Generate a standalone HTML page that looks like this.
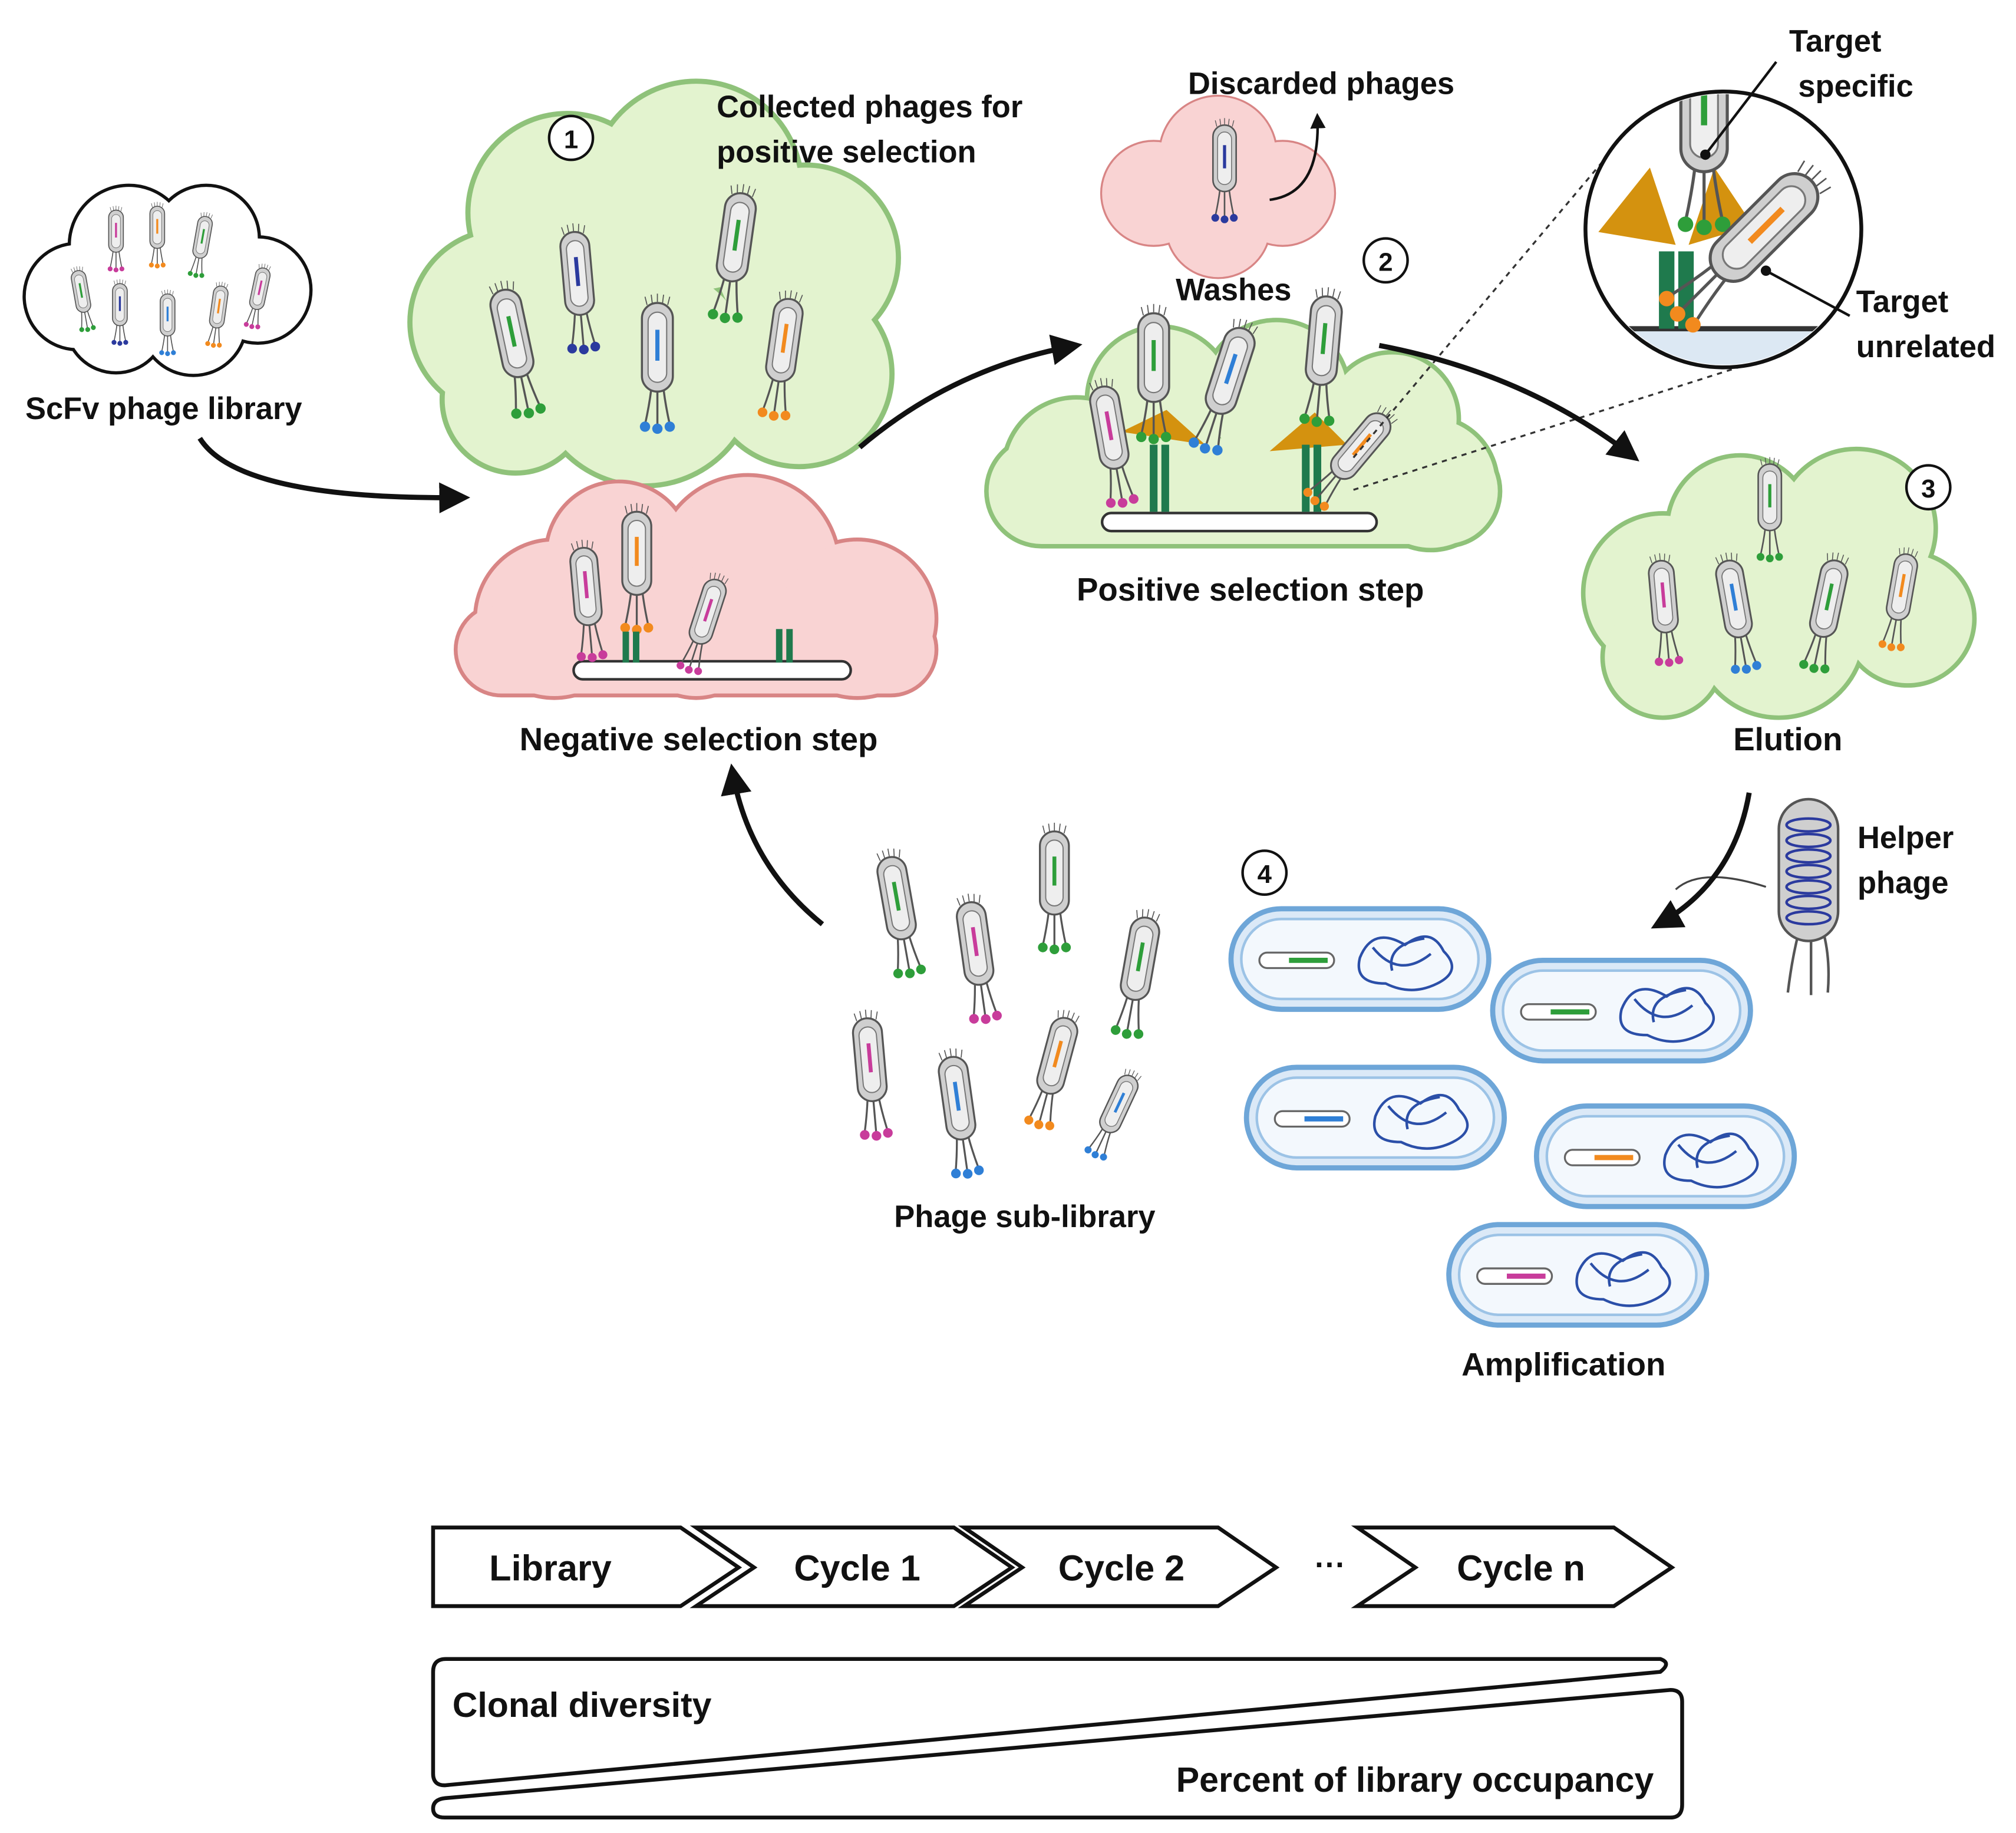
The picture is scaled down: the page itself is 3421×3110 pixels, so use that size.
<!DOCTYPE html>
<html><head><meta charset="utf-8"><style>
html,body{margin:0;padding:0;background:#fff;}
svg{display:block;}
text{font-family:"Liberation Sans",sans-serif;font-weight:bold;fill:#111;}
</style></head><body>
<svg width="3421" height="3110" viewBox="0 0 1564 1422" preserveAspectRatio="none" xmlns="http://www.w3.org/2000/svg">
<defs>
<g id="ph">
  <g stroke="#555" stroke-width="1">
    <line x1="-10" y1="2" x2="-12" y2="-6"/><line x1="-5" y1="0" x2="-6" y2="-8"/><line x1="0" y1="-1" x2="0" y2="-9"/><line x1="5" y1="0" x2="6" y2="-8"/><line x1="10" y1="2" x2="12" y2="-6"/>
  </g>
  <path d="M-6 84 Q-8 100 -12 118 M0 84 L0 120 M6 84 Q8 100 12 118" stroke="#555" stroke-width="2" fill="none"/>
  <circle cx="-12" cy="120" r="5" fill="currentColor"/><circle cx="0" cy="122" r="5" fill="currentColor"/><circle cx="12" cy="120" r="5" fill="currentColor"/>
  <rect x="-15" y="0" width="30" height="86" rx="15" fill="#cfcfcf" stroke="#555" stroke-width="2"/>
  <rect x="-9" y="9" width="18" height="68" rx="9" fill="#eee" stroke="#777" stroke-width="1.2"/>
  <line x1="0" y1="26" x2="0" y2="56" stroke="currentColor" stroke-width="4"/>
</g>
<marker id="ah" viewBox="0 0 10 10" refX="8" refY="5" markerWidth="6" markerHeight="6" orient="auto"><path d="M0 0 L10 5 L0 10 z" fill="#111"/></marker>
<g id="bac">
  <rect x="0" y="0" width="200" height="78" rx="39" fill="#dbe9f7" stroke="#6ea6d8" stroke-width="4"/>
  <rect x="8" y="8" width="184" height="62" rx="31" fill="#f3f8fd" stroke="#9cc3e6" stroke-width="2"/>
  <rect x="22" y="34" width="58" height="12" rx="6" fill="#fff" stroke="#666" stroke-width="1.5"/>
  <path d="M100 38 q10 -25 35 -10 q20 -15 30 5 q15 15 -5 25 q-20 10 -40 0 q-25 0 -20 -20 z M110 30 q20 25 45 5 M125 48 q-5 -20 25 -25" fill="none" stroke="#2b4fa8" stroke-width="2"/>
</g>
</defs>

<g>
 <g fill="none" stroke="#111" stroke-width="5">
  <circle cx="60" cy="230" r="40"/><circle cx="100" cy="190" r="45"/><circle cx="160" cy="185" r="40"/><circle cx="200" cy="225" r="40"/><circle cx="150" cy="250" r="40"/><circle cx="90" cy="250" r="38"/>
 </g>
 <g fill="#fff">
  <circle cx="60" cy="230" r="40"/><circle cx="100" cy="190" r="45"/><circle cx="160" cy="185" r="40"/><circle cx="200" cy="225" r="40"/><circle cx="150" cy="250" r="40"/><circle cx="90" cy="250" r="38"/>
 </g>
 <use href="#ph" transform="translate(90,163) scale(0.38)" color="#c83c9b"/>
 <use href="#ph" transform="translate(122,160) scale(0.38)" color="#f28a1e"/>
 <use href="#ph" transform="translate(160,168) scale(0.38) rotate(10)" color="#2e9e3a"/>
 <use href="#ph" transform="translate(60,210) scale(0.38) rotate(-10)" color="#2e9e3a"/>
 <use href="#ph" transform="translate(93,220) scale(0.38)" color="#2b3a9e"/>
 <use href="#ph" transform="translate(130,228) scale(0.38)" color="#2f7fd6"/>
 <use href="#ph" transform="translate(172,222) scale(0.38) rotate(8)" color="#f28a1e"/>
 <use href="#ph" transform="translate(205,208) scale(0.38) rotate(12)" color="#c83c9b"/>
</g>
<text x="127" y="325" font-size="24" text-anchor="middle">ScFv phage library</text>

<g>
 <g fill="none" stroke="#8fc27a" stroke-width="8">
  <circle cx="390" cy="250" r="70"/><circle cx="440" cy="165" r="75"/><circle cx="540" cy="145" r="80"/><circle cx="625" cy="200" r="70"/><circle cx="620" cy="290" r="70"/><circle cx="500" cy="290" r="85"/><circle cx="400" cy="310" r="55"/>
 </g>
 <g fill="#e3f3cf">
  <circle cx="390" cy="250" r="70"/><circle cx="440" cy="165" r="75"/><circle cx="540" cy="145" r="80"/><circle cx="625" cy="200" r="70"/><circle cx="620" cy="290" r="70"/><circle cx="500" cy="290" r="85"/><circle cx="400" cy="310" r="55"/>
 </g>
 <use href="#ph" transform="translate(390,225) rotate(-12) scale(0.8)" color="#2e9e3a"/>
 <use href="#ph" transform="translate(445,180) rotate(-5) scale(0.75)" color="#2b3a9e"/>
 <use href="#ph" transform="translate(510,235) scale(0.8)" color="#2f7fd6"/>
 <use href="#ph" transform="translate(576,150) rotate(8) scale(0.8)" color="#2e9e3a"/>
 <use href="#ph" transform="translate(613,232) rotate(8) scale(0.75)" color="#f28a1e"/>
</g>
<circle cx="443" cy="107" r="17" fill="#fff" stroke="#111" stroke-width="2"/>
<text x="443" y="115" font-size="20" text-anchor="middle">1</text>
<text x="556" y="91" font-size="24">Collected phages for</text>
<text x="556" y="126" font-size="24">positive selection</text>

<g>
 <g fill="none" stroke="#d88585" stroke-width="6">
  <circle cx="430" cy="480" r="60"/><circle cx="480" cy="430" r="55"/><circle cx="580" cy="440" r="70"/><circle cx="665" cy="480" r="60"/><circle cx="540" cy="490" r="50"/><rect x="355" y="470" width="370" height="68" rx="34"/>
 </g>
 <g fill="#f9d3d3">
  <circle cx="430" cy="480" r="60"/><circle cx="480" cy="430" r="55"/><circle cx="580" cy="440" r="70"/><circle cx="665" cy="480" r="60"/><circle cx="540" cy="490" r="50"/><rect x="355" y="470" width="370" height="68" rx="34"/>
 </g>
 <rect x="445" y="513" width="215" height="14" rx="7" fill="#fff" stroke="#333" stroke-width="2"/>
 <use href="#ph" transform="translate(452,425) rotate(-5) scale(0.7)" color="#c83c9b"/>
 <use href="#ph" transform="translate(494,397) scale(0.75)" color="#f28a1e"/>
 <use href="#ph" transform="translate(557,450) rotate(18) scale(0.6)" color="#c83c9b"/>
 <rect x="483" y="490" width="5" height="24" fill="#1f7a4d"/><rect x="491" y="490" width="5" height="24" fill="#1f7a4d"/>
 <rect x="602" y="488" width="5" height="26" fill="#1f7a4d"/><rect x="610" y="488" width="5" height="26" fill="#1f7a4d"/>
</g>
<text x="542" y="582" font-size="25" text-anchor="middle">Negative selection step</text>

<g>
 <g fill="none" stroke="#d88585" stroke-width="3">
  <circle cx="895" cy="150" r="40"/><circle cx="945" cy="120" r="45"/><circle cx="995" cy="150" r="40"/><circle cx="945" cy="175" r="40"/>
 </g>
 <g fill="#f9d3d3">
  <circle cx="895" cy="150" r="40"/><circle cx="945" cy="120" r="45"/><circle cx="995" cy="150" r="40"/><circle cx="945" cy="175" r="40"/>
 </g>
 <use href="#ph" transform="translate(950,97) scale(0.6)" color="#2b3a9e"/>
 <path d="M985 155 Q1025 150 1022 90" fill="none" stroke="#111" stroke-width="2" marker-end="url(#ah)"/>
</g>
<text x="1025" y="73" font-size="24" text-anchor="middle">Discarded phages</text>

<g>
 <g fill="none" stroke="#8fc27a" stroke-width="7">
  <circle cx="835" cy="365" r="55"/><circle cx="900" cy="310" r="55"/><circle cx="990" cy="305" r="55"/><circle cx="1080" cy="325" r="50"/><circle cx="1110" cy="375" r="50"/><rect x="767" y="340" width="395" height="82" rx="41"/>
 </g>
 <g fill="#e3f3cf">
  <circle cx="835" cy="365" r="55"/><circle cx="900" cy="310" r="55"/><circle cx="990" cy="305" r="55"/><circle cx="1080" cy="325" r="50"/><circle cx="1110" cy="375" r="50"/><rect x="767" y="340" width="395" height="82" rx="41"/>
 </g>
 <rect x="855" y="398" width="213" height="14" rx="7" fill="#fff" stroke="#333" stroke-width="2"/>
 <path d="M870 335 L905 318 L935 345 Z" fill="#d4920f"/><path d="M985 350 L1020 320 L1045 345 Z" fill="#d4920f"/>
 <rect x="892" y="345" width="6" height="52" fill="#1f7a4d"/><rect x="901" y="345" width="6" height="52" fill="#1f7a4d"/>
 <rect x="1010" y="345" width="6" height="52" fill="#1f7a4d"/><rect x="1019" y="345" width="6" height="52" fill="#1f7a4d"/>
 <use href="#ph" transform="translate(855,300) rotate(-10) scale(0.75)" color="#c83c9b"/>
 <use href="#ph" transform="translate(895,243) scale(0.8)" color="#2e9e3a"/>
 <use href="#ph" transform="translate(965,255) rotate(18) scale(0.8)" color="#2f7fd6"/>
 <use href="#ph" transform="translate(1030,230) rotate(5) scale(0.8)" color="#2e9e3a"/>
 <use href="#ph" transform="translate(1075,323) rotate(40) scale(0.7)" color="#f28a1e"/>
</g>
<text x="957" y="233" font-size="24" text-anchor="middle">Washes</text>
<circle cx="1075" cy="202" r="17" fill="#fff" stroke="#111" stroke-width="2"/>
<text x="1075" y="210" font-size="20" text-anchor="middle">2</text>
<text x="970" y="466" font-size="25" text-anchor="middle">Positive selection step</text>

<line x1="1050" y1="355" x2="1252" y2="115" stroke="#333" stroke-width="1.5" stroke-dasharray="4,4"/>
<line x1="1050" y1="380" x2="1380" y2="275" stroke="#333" stroke-width="1.5" stroke-dasharray="4,4"/>
<g>
 <circle cx="1337" cy="178" r="107" fill="#fff" stroke="#111" stroke-width="3"/>
 <clipPath id="zc"><circle cx="1337" cy="178" r="105"/></clipPath>
 <g clip-path="url(#zc)">
  <rect x="1230" y="255" width="220" height="40" fill="#dce8f3"/>
  <line x1="1230" y1="255" x2="1450" y2="255" stroke="#333" stroke-width="4"/>
  <rect x="1287" y="195" width="12" height="60" fill="#1f7a4d"/><rect x="1302" y="195" width="12" height="60" fill="#1f7a4d"/>
  <path d="M1240 180 L1280 130 L1300 190 Z M1310 190 L1330 130 L1360 175 Z" fill="#d4920f"/>
  <use href="#ph" transform="translate(1322,30) scale(1.2)" color="#2e9e3a"/>
  <use href="#ph" transform="translate(1405,140) rotate(45) scale(1.2)" color="#f28a1e"/>
 </g>
 <line x1="1323" y1="120" x2="1378" y2="48" stroke="#111" stroke-width="2"/><circle cx="1323" cy="120" r="4" fill="#111"/>
 <line x1="1370" y1="210" x2="1435" y2="245" stroke="#111" stroke-width="2"/><circle cx="1370" cy="210" r="4" fill="#111"/>
</g>
<text x="1388" y="40" font-size="24">Target</text>
<text x="1395" y="75" font-size="24">specific</text>
<text x="1440" y="242" font-size="24">Target</text>
<text x="1440" y="277" font-size="24">unrelated</text>

<g>
 <g fill="none" stroke="#8fc27a" stroke-width="7">
  <circle cx="1290" cy="460" r="60"/><circle cx="1350" cy="410" r="55"/><circle cx="1440" cy="410" r="60"/><circle cx="1480" cy="480" r="50"/><circle cx="1380" cy="490" r="65"/><circle cx="1290" cy="510" r="45"/>
 </g>
 <g fill="#e3f3cf">
  <circle cx="1290" cy="460" r="60"/><circle cx="1350" cy="410" r="55"/><circle cx="1440" cy="410" r="60"/><circle cx="1480" cy="480" r="50"/><circle cx="1380" cy="490" r="65"/><circle cx="1290" cy="510" r="45"/>
 </g>
 <use href="#ph" transform="translate(1373,360) scale(0.6)" color="#2e9e3a"/>
 <use href="#ph" transform="translate(1288,435) rotate(-5) scale(0.65)" color="#c83c9b"/>
 <use href="#ph" transform="translate(1340,435) rotate(-10) scale(0.7)" color="#2f7fd6"/>
 <use href="#ph" transform="translate(1425,435) rotate(12) scale(0.7)" color="#2e9e3a"/>
 <use href="#ph" transform="translate(1480,430) rotate(10) scale(0.6)" color="#f28a1e"/>
</g>
<circle cx="1496" cy="378" r="17" fill="#fff" stroke="#111" stroke-width="2"/>
<text x="1496" y="386" font-size="20" text-anchor="middle">3</text>
<text x="1387" y="582" font-size="25" text-anchor="middle">Elution</text>

<g>
 <path d="M1395 725 q-5 20 -8 45 M1405 725 L1405 772 M1415 725 q5 20 3 45" stroke="#555" stroke-width="2" fill="none"/>
 <rect x="1380" y="620" width="46" height="110" rx="23" fill="#cfcfcf" stroke="#555" stroke-width="2"/>
 <g fill="none" stroke="#2b3a9e" stroke-width="2">
  <ellipse cx="1403" cy="640" rx="17" ry="5"/><ellipse cx="1403" cy="652" rx="17" ry="5"/><ellipse cx="1403" cy="664" rx="17" ry="5"/><ellipse cx="1403" cy="676" rx="17" ry="5"/><ellipse cx="1403" cy="688" rx="17" ry="5"/><ellipse cx="1403" cy="700" rx="17" ry="5"/><ellipse cx="1403" cy="712" rx="17" ry="5"/>
 </g>
</g>
<text x="1441" y="658" font-size="24">Helper</text>
<text x="1441" y="693" font-size="24">phage</text>
<path d="M1370 688 Q1320 672 1300 690" fill="none" stroke="#444" stroke-width="1.5"/>

<use href="#bac" transform="translate(955,705)"/>
<use href="#bac" transform="translate(1158,745)"/>
<use href="#bac" transform="translate(967,828)"/>
<use href="#bac" transform="translate(1192,858)"/>
<use href="#bac" transform="translate(1124,950)"/>
<line x1="1000" y1="745" x2="1030" y2="745" stroke="#2e9e3a" stroke-width="4"/>
<line x1="1203" y1="785" x2="1233" y2="785" stroke="#2e9e3a" stroke-width="4"/>
<line x1="1012" y1="868" x2="1042" y2="868" stroke="#2f7fd6" stroke-width="4"/>
<line x1="1237" y1="898" x2="1267" y2="898" stroke="#f28a1e" stroke-width="4"/>
<line x1="1169" y1="990" x2="1199" y2="990" stroke="#c83c9b" stroke-width="4"/>
<circle cx="981" cy="677" r="17" fill="#fff" stroke="#111" stroke-width="2"/>
<text x="981" y="685" font-size="20" text-anchor="middle">4</text>
<text x="1213" y="1067" font-size="25" text-anchor="middle">Amplification</text>

<use href="#ph" transform="translate(690,665) rotate(-10) scale(0.75)" color="#2e9e3a"/>
<use href="#ph" transform="translate(752,700) rotate(-8) scale(0.75)" color="#c83c9b"/>
<use href="#ph" transform="translate(818,645) scale(0.75)" color="#2e9e3a"/>
<use href="#ph" transform="translate(890,712) rotate(10) scale(0.75)" color="#2e9e3a"/>
<use href="#ph" transform="translate(672,790) rotate(-5) scale(0.75)" color="#c83c9b"/>
<use href="#ph" transform="translate(738,820) rotate(-8) scale(0.75)" color="#2f7fd6"/>
<use href="#ph" transform="translate(828,790) rotate(15) scale(0.7)" color="#f28a1e"/>
<use href="#ph" transform="translate(878,835) rotate(25) scale(0.55)" color="#2f7fd6"/>
<text x="795" y="952" font-size="24" text-anchor="middle">Phage sub-library</text>

<g fill="none" stroke="#111" stroke-width="4" marker-end="url(#ah)">
 <path d="M155 340 Q185 388 360 386"/>
 <path d="M667 347 Q740 285 835 268"/>
 <path d="M1070 268 Q1185 290 1268 355"/>
 <path d="M1357 615 Q1345 685 1285 718"/>
 <path d="M638 717 Q580 670 568 597"/>
</g>

<g fill="#fff" stroke="#111" stroke-width="3">
 <path d="M336 1185 L528 1185 L573 1216 L528 1246 L336 1246 Z"/>
 <path d="M540 1185 L740 1185 L785 1216 L740 1246 L540 1246 L585 1216 Z"/>
 <path d="M748 1185 L945 1185 L990 1216 L945 1246 L748 1246 L793 1216 Z"/>
 <path d="M1053 1185 L1252 1185 L1297 1216 L1252 1246 L1053 1246 L1098 1216 Z"/>
</g>
<text x="427" y="1226" font-size="28" text-anchor="middle">Library</text>
<text x="665" y="1226" font-size="28" text-anchor="middle">Cycle 1</text>
<text x="870" y="1226" font-size="28" text-anchor="middle">Cycle 2</text>
<text x="1032" y="1222" font-size="24" text-anchor="middle">···</text>
<text x="1180" y="1226" font-size="28" text-anchor="middle">Cycle n</text>

<path d="M346 1287 L1288 1287 Q1297 1290 1288 1297 L345 1385 Q336 1385 336 1376 L336 1297 Q336 1287 346 1287 Z" fill="#fff" stroke="#111" stroke-width="3"/>
<path d="M345 1395 L1296 1311 Q1305 1311 1305 1320 L1305 1400 Q1305 1410 1296 1410 L345 1410 Q336 1410 336 1403 Q336 1396 345 1395 Z" fill="#fff" stroke="#111" stroke-width="3"/>
<text x="351" y="1332" font-size="27">Clonal diversity</text>
<text x="1283" y="1390" font-size="27" text-anchor="end">Percent of library occupancy</text>
</svg>
</body></html>
